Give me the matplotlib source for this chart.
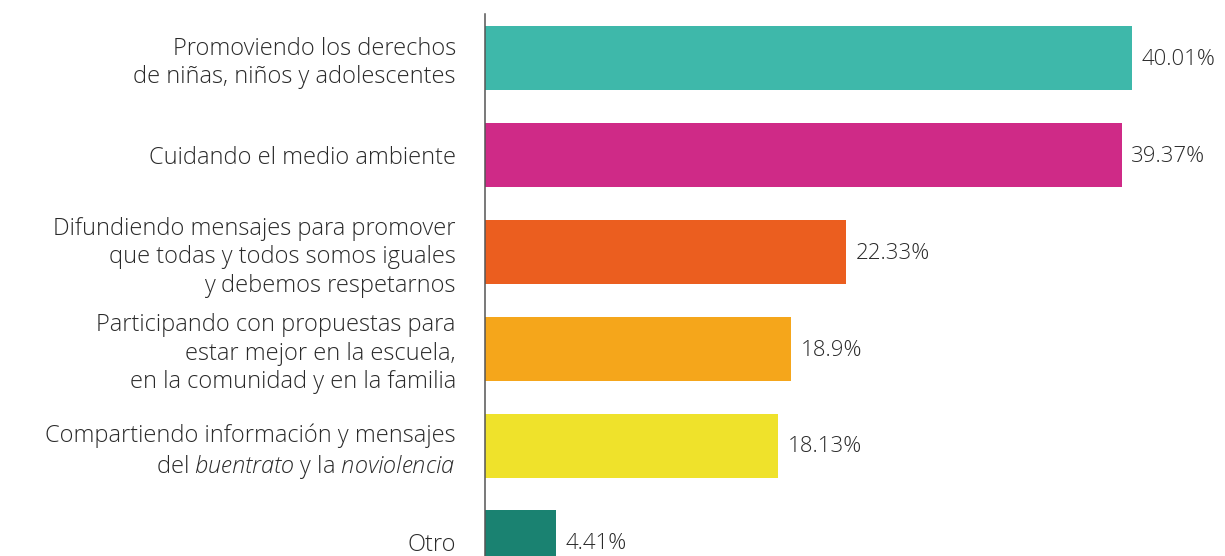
import matplotlib
matplotlib.use("Agg")
import matplotlib.pyplot as plt

categories = [
    "Promoviendo los derechos\nde niñas, niños y adolescentes",
    "Cuidando el medio ambiente",
    "Difundiendo mensajes para promover\nque todas y todos somos iguales\ny debemos respetarnos",
    "Participando con propuestas para\nestar mejor en la escuela,\nen la comunidad y en la familia",
    "Compartiendo información y mensajes\ndel $\\mathit{buentrato}$ y la $\\mathit{noviolencia}$",
    "Otro",
]
values = [40.01, 39.37, 22.33, 18.9, 18.13, 4.41]
value_labels = ["40.01%", "39.37%", "22.33%", "18.9%", "18.13%", "4.41%"]
colors = ["#3EB8AA", "#CF2A87", "#EB5E1F", "#F5A61B", "#EFE22B", "#1A8271"]

family = "Open Sans"
plt.rcParams["font.family"] = [family, "DejaVu Sans"]
plt.rcParams["mathtext.fontset"] = "custom"
plt.rcParams["mathtext.rm"] = f"{family}:light"
plt.rcParams["mathtext.it"] = f"{family}:italic:light"

txt = "#2a2a2a"
W = "light"
fig = plt.figure(figsize=(12.25, 5.56), dpi=100)
ax = fig.add_axes([485 / 1225, 0.0, 1 - 485 / 1225, 542 / 556])

pos = list(range(len(values)))
ax.barh(pos, values, height=0.66, color=colors)
ax.set_ylim(5.14, -0.454)
ax.set_xlim(0, 45.76)

for p, v, lab in zip(pos, values, value_labels):
    ax.annotate(lab, (v, p), xytext=(7, -1), textcoords="offset points",
                ha="left", va="center", fontsize=16, color=txt, fontweight=W)

ax.set_yticks(pos)
ax.set_yticklabels(categories, fontsize=17, color=txt, linespacing=1.25, fontweight=W)
ax.tick_params(axis="y", length=0, pad=21)
ax.set_xticks([])
for s in ["top", "right", "bottom"]:
    ax.spines[s].set_visible(False)
ax.spines["left"].set_color("#555555")
ax.spines["left"].set_linewidth(1.1)

fig.savefig("out.png", dpi=100)
